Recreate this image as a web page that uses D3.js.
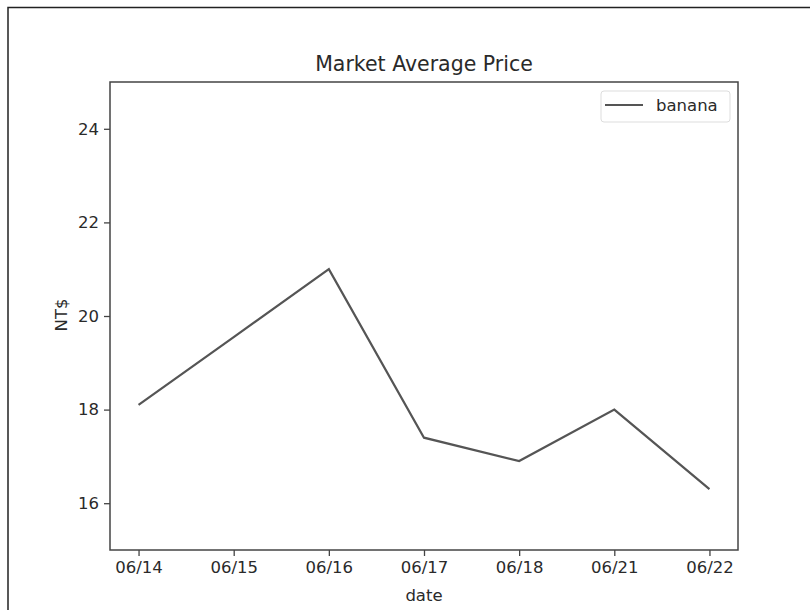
<!DOCTYPE html>
<html>
<head>
<meta charset="utf-8">
<script src="https://cdn.jsdelivr.net/npm/d3@7"></script>
<style>
  body { margin: 0; background: #fff; }
  svg text { font-family: "DejaVu Sans", sans-serif; fill: #2a2a2a; }
</style>
</head>
<body>
<svg id="chart" width="810" height="610"></svg>
<script>
// datos del grafico
const dates = ['06/14', '06/15', '06/16', '06/17', '06/18', '06/21', '06/22'];
const prices = [18.1, 19.55, 21.0, 17.4, 16.9, 18.0, 16.3];
const yTicks = [16, 18, 20, 22, 24];
const seriesName = 'banana';

const svg = d3.select('#chart');
const margin = { left: 110, right: 72, top: 82, bottom: 60 };
const width = 810, height = 610;

// marco exterior (solo arriba e izquierda)
svg.append('path')
  .attr('d', 'M8,610 L8,7.5 L810,7.5')
  .attr('fill', 'none')
  .attr('stroke', '#222')
  .attr('stroke-width', 1.5);

const x = d3.scaleLinear()
  .domain([-0.3, dates.length - 1 + 0.3])
  .range([margin.left, width - margin.right]);
const y = d3.scaleLinear()
  .domain([15, 25])
  .range([height - margin.bottom, margin.top]);

// ejes
const xAxis = svg.append('g')
  .attr('transform', `translate(0,${height - margin.bottom})`)
  .call(d3.axisBottom(x).tickValues(d3.range(dates.length)).tickFormat(i => dates[i]).tickSize(6).tickPadding(5));
const yAxis = svg.append('g')
  .attr('transform', `translate(${margin.left},0)`)
  .call(d3.axisLeft(y).tickValues(yTicks).tickSize(6).tickPadding(5));

[xAxis, yAxis].forEach(g => {
  g.select('.domain').remove();
  g.selectAll('line').attr('stroke', '#444').attr('stroke-width', 1.3);
  g.selectAll('text').style('font-size', '16.5px').attr('fill', '#2a2a2a');
});

// linea
const line = d3.line().x((d, i) => x(i)).y(d => y(d));
svg.append('path')
  .datum(prices)
  .attr('fill', 'none')
  .attr('stroke', '#555')
  .attr('stroke-width', 2.2)
  .attr('stroke-linejoin', 'miter')
  .attr('d', line);

// caja de los ejes
svg.append('rect')
  .attr('x', margin.left)
  .attr('y', margin.top)
  .attr('width', width - margin.left - margin.right)
  .attr('height', height - margin.top - margin.bottom)
  .attr('fill', 'none')
  .attr('stroke', '#444')
  .attr('stroke-width', 1.5);

// titulos
svg.append('text')
  .attr('x', (margin.left + width - margin.right) / 2)
  .attr('y', 71)
  .attr('text-anchor', 'middle')
  .style('font-size', '20.5px')
  .text('Market Average Price');

svg.append('text')
  .attr('x', (margin.left + width - margin.right) / 2)
  .attr('y', 601)
  .attr('text-anchor', 'middle')
  .style('font-size', '16.5px')
  .text('date');

svg.append('text')
  .attr('transform', 'translate(67,315) rotate(-90)')
  .attr('text-anchor', 'middle')
  .style('font-size', '16.5px')
  .text('NT$');

// leyenda
const legend = svg.append('g');
legend.append('rect')
  .attr('x', 601).attr('y', 91)
  .attr('width', 129).attr('height', 31)
  .attr('rx', 3)
  .attr('fill', '#fff')
  .attr('stroke', '#ddd');
legend.append('line')
  .attr('x1', 605).attr('x2', 643)
  .attr('y1', 105).attr('y2', 105)
  .attr('stroke', '#555').attr('stroke-width', 2.2);
legend.append('text')
  .attr('x', 656).attr('y', 111)
  .style('font-size', '16.5px')
  .text(seriesName);
</script>
</body>
</html>
